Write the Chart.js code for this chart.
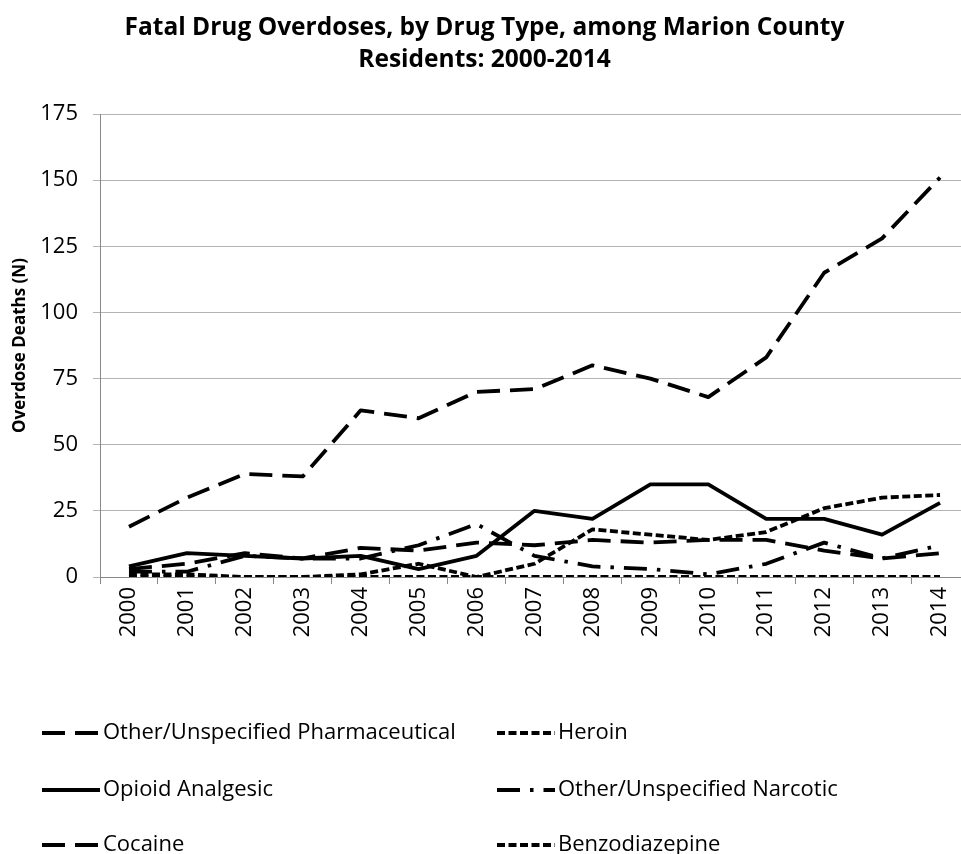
<!DOCTYPE html>
<html>
<head>
<meta charset="utf-8">
<title>Fatal Drug Overdoses, Marion County</title>
<script src="https://cdn.jsdelivr.net/npm/chart.js@4.4.1/dist/chart.umd.min.js"></script>
<style>
  html, body { margin: 0; padding: 0; background: #fff; overflow: hidden; }
  canvas { display: block; }
</style>
</head>
<body>
<canvas id="overdoseChart" width="980" height="854"></canvas>
<script>
// values
const years = ['2000', '2001', '2002', '2003', '2004', '2005', '2006', '2007',
  '2008', '2009', '2010', '2011', '2012', '2013', '2014'];
const pharmaceutical = [19, 30, 39, 38, 63, 60, 70, 71, 80, 75, 68, 83, 115, 128, 151];
const opioid = [4, 9, 8, 7, 8, 3, 8, 25, 22, 35, 35, 22, 22, 16, 28];
const cocaine = [3, 5, 9, 7, 11, 10, 13, 12, 14, 13, 14, 14, 10, 7, 9];
const heroin = [1, 1, 0, 0, 1, 5, 0, 5, 18, 16, 14, 17, 26, 30, 31];
const narcotic = [2, 2, 8, 7, 7, 12, 20, 8, 4, 3, 1, 5, 13, 7, 12];
const benzodiazepine = [0, 0, 0, 0, 0, 0, 0, 0, 0, 0, 0, 0, 0, 0, 0];
const yTicks = [0, 25, 50, 75, 100, 125, 150, 175];

const FONT = "'Open Sans', 'DejaVu Sans', sans-serif";
const longDash = [23, 10];
const shortDash = [8, 3.5];
const dashDot = [23, 10, 3.5, 10];

function line(label, data, dash) {
  return {
    label: label,
    data: data,
    borderColor: '#000',
    backgroundColor: '#000',
    borderWidth: 3.8,
    borderDash: dash,
    borderCapStyle: 'butt',
    borderJoinStyle: 'round',
    pointRadius: 0,
    tension: 0,
    fill: false
  };
}

// legend laid out in two columns like the original
const legendCols = [42, 497];
const legendRows = [733, 790, 845];
const legendOrder = [0, 1, 2, 3, 4, 5]; // column-wise

const columnLegend = {
  id: 'columnLegend',
  afterDraw(chart) {
    const ctx = chart.ctx;
    ctx.save();
    ctx.font = '22px ' + FONT;
    ctx.textBaseline = 'middle';
    ctx.fillStyle = '#000';
    legendOrder.forEach((dsIndex, i) => {
      const ds = chart.data.datasets[dsIndex];
      const x = legendCols[Math.floor(i / 3)];
      const y = legendRows[i % 3];
      ctx.strokeStyle = '#000';
      ctx.lineWidth = 3.8;
      ctx.lineCap = 'butt';
      ctx.setLineDash(ds.borderDash || []);
      ctx.beginPath();
      ctx.moveTo(x, y);
      ctx.lineTo(x + 58, y);
      ctx.stroke();
      ctx.setLineDash([]);
      ctx.fillText(ds.label, x + 61, y);
    });
    ctx.restore();
  }
};

new Chart(document.getElementById('overdoseChart'), {
  type: 'line',
  data: {
    labels: years,
    datasets: [
      line('Other/Unspecified Pharmaceutical', pharmaceutical, longDash),
      line('Opioid Analgesic', opioid, []),
      line('Cocaine', cocaine, longDash),
      line('Heroin', heroin, shortDash),
      line('Other/Unspecified Narcotic', narcotic, dashDot),
      line('Benzodiazepine', benzodiazepine, shortDash)
    ]
  },
  options: {
    responsive: false,
    animation: false,
    devicePixelRatio: 1,
    layout: { padding: { left: 0, right: 11, top: 0, bottom: 0 } },
    plugins: {
      legend: { display: false },
      tooltip: { enabled: false },
      title: {
        display: true,
        text: ['Fatal Drug Overdoses, by Drug Type, among Marion County', 'Residents: 2000-2014'],
        color: '#000',
        font: { family: FONT, size: 24.5, weight: 'bold', lineHeight: 32 / 24.5 },
        padding: { top: 12, bottom: 38 }
      }
    },
    scales: {
      x: {
        offset: true,
        grid: {
          offset: true,
          drawOnChartArea: false,
          drawTicks: true,
          tickLength: 7,
          color: '#888'
        },
        border: { display: true, color: '#888', width: 1 },
        ticks: {
          color: '#000',
          minRotation: 90,
          maxRotation: 90,
          padding: 3,
          font: { family: FONT, size: 22 }
        },
        afterFit(scale) { scale.height = 277; }
      },
      y: {
        min: 0,
        max: 175,
        afterBuildTicks(scale) { scale.ticks = yTicks.map(v => ({ value: v })); },
        grid: {
          color: '#b4b4b4',
          lineWidth: 1,
          drawTicks: true,
          tickLength: 7
        },
        border: { display: true, color: '#888', width: 1 },
        ticks: {
          color: '#000',
          padding: 15,
          font: { family: FONT, size: 22 }
        },
        title: {
          display: true,
          text: 'Overdose Deaths (N)',
          color: '#000',
          font: { family: FONT, size: 17, weight: 'bold' },
          padding: { top: 10, bottom: 0 }
        },
        afterFit(scale) { scale.width = 100; }
      }
    }
  },
  plugins: [columnLegend]
});
</script>
</body>
</html>
